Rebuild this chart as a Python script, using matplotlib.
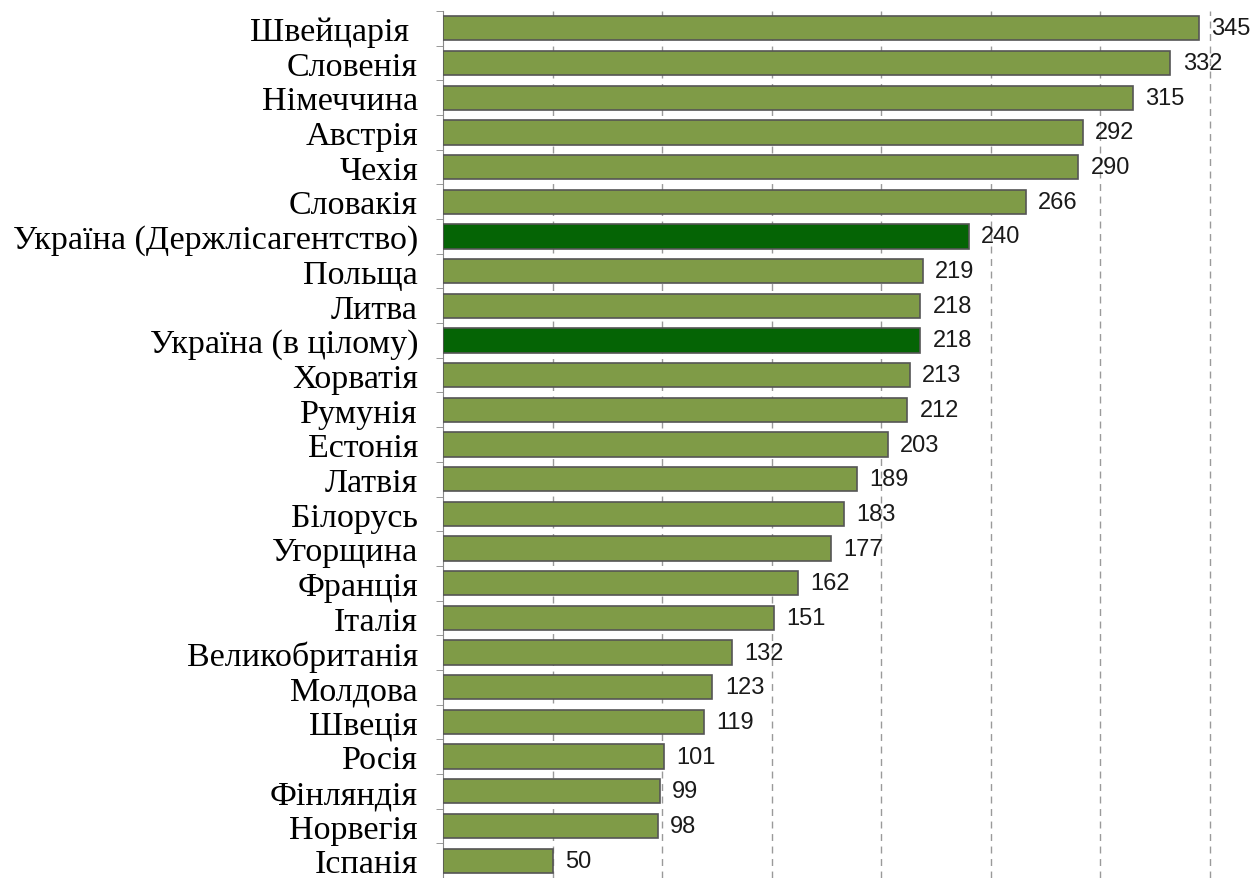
import matplotlib
matplotlib.use('Agg')
import matplotlib.pyplot as plt
import numpy as np

# data (top to bottom)
countries = [
    'Швейцарія ', 'Словенія', 'Німеччина', 'Австрія', 'Чехія', 'Словакія',
    'Україна (Держлісагентство)', 'Польща', 'Литва', 'Україна (в цілому)',
    'Хорватія', 'Румунія', 'Естонія', 'Латвія', 'Білорусь', 'Угорщина',
    'Франція', 'Італія', 'Великобританія', 'Молдова', 'Швеція', 'Росія',
    'Фінляндія', 'Норвегія', 'Іспанія',
]
values = [345, 332, 315, 292, 290, 266, 240, 219, 218, 218, 213, 212, 203,
          189, 183, 177, 162, 151, 132, 123, 119, 101, 99, 98, 50]
highlight = ['Україна (Держлісагентство)', 'Україна (в цілому)']

GREEN = '#7F9B47'
DARK_GREEN = '#056405'

fig = plt.figure(figsize=(12.6, 8.79), dpi=100)
ax = fig.add_axes([443 / 1260, 0.0, 1 - 443 / 1260, 1 - 12 / 879])

y = np.arange(len(countries))
colors = [DARK_GREEN if c in highlight else GREEN for c in countries]
ax.barh(y, values, height=0.7, color=colors, edgecolor='#555555',
        linewidth=1.2, zorder=3)

for yi, v in zip(y, values):
    ax.annotate(str(v), (v, yi), xytext=(9, 0), textcoords='offset points',
                ha='left', va='center', fontsize=17, color='#1a1a1a',
                family='Liberation Sans')

ax.set_xlim(0, 373)
ax.set_ylim(24.4, -0.5)

# dashed vertical gridlines
ax.set_xticks(np.arange(50, 400, 50))
ax.xaxis.grid(True, linestyle=(0, (5, 4)), color='#9a9a9a', linewidth=1, zorder=0)
ax.tick_params(axis='x', length=0, labelbottom=False)

# category labels, ticks between categories
ax.set_yticks(y)
ax.set_yticklabels(countries, family='Liberation Serif', fontsize=24.5)
ax.tick_params(axis='y', which='major', length=0, pad=18)
ax.set_yticks(np.arange(-0.5, len(countries), 1), minor=True)
ax.tick_params(axis='y', which='minor', length=5, color='#888888')

for side in ['top', 'right', 'bottom']:
    ax.spines[side].set_visible(False)
ax.spines['left'].set_color('#888888')

fig.savefig('out.png', dpi=100, facecolor='white')
